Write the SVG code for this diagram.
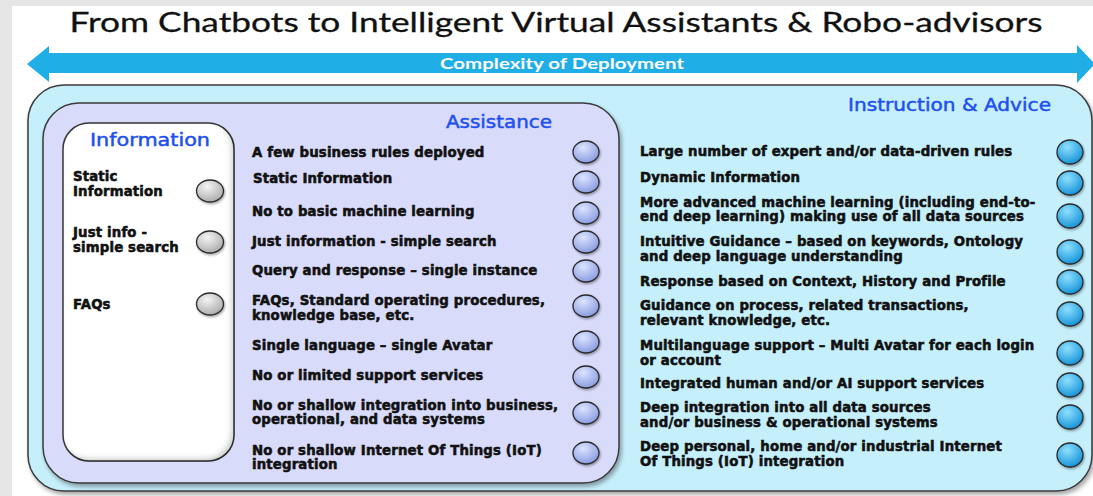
<svg xmlns="http://www.w3.org/2000/svg" width="1093" height="496" viewBox="0 0 1093 496">
<defs>
<style>
.title{font-family:Lato,"Liberation Sans",sans-serif;font-size:27px;fill:#111;stroke:#111;stroke-width:0.3}
.arrowtxt{font-family:Lato,"Liberation Sans",sans-serif;font-weight:bold;font-size:15px;fill:#fff}
.head{font-family:"DejaVu Sans",Verdana,sans-serif;font-size:18px;fill:#1E50EE;stroke:#1E50EE;stroke-width:0.5}
.t{font-family:"DejaVu Sans","Liberation Sans",sans-serif;font-weight:bold;font-size:13.3px;fill:#111;stroke:#111;stroke-width:0.55;letter-spacing:0.15px}
.panel{stroke:#3a3a3a;stroke-width:1.5}
.dot{stroke:#2a2a2a;stroke-width:1.3}
</style>
<radialGradient id="gGray" cx="0.4" cy="0.3" r="0.75"><stop offset="0" stop-color="#f4f4f4"/><stop offset="1" stop-color="#a9a9a9"/></radialGradient>
<radialGradient id="gLav" cx="0.4" cy="0.3" r="0.75"><stop offset="0" stop-color="#dce4ff"/><stop offset="1" stop-color="#8598e0"/></radialGradient>
<radialGradient id="gBlue" cx="0.4" cy="0.3" r="0.75"><stop offset="0" stop-color="#8fe0ff"/><stop offset="1" stop-color="#0f8fd6"/></radialGradient>
<filter id="drop" x="-5%" y="-5%" width="110%" height="115%"><feDropShadow dx="2" dy="3" stdDeviation="2" flood-color="#000" flood-opacity="0.35"/></filter>
<filter id="dotShadow" x="-30%" y="-30%" width="160%" height="160%"><feDropShadow dx="1" dy="1.5" stdDeviation="1" flood-color="#000" flood-opacity="0.35"/></filter>
<filter id="inset" x="-5%" y="-5%" width="110%" height="110%">
<feFlood flood-color="#000" flood-opacity="0.45" result="f"/>
<feComposite in="f" in2="SourceAlpha" operator="out" result="inv"/>
<feGaussianBlur in="inv" stdDeviation="3" result="b"/>
<feOffset in="b" dx="-3" dy="-3" result="o"/>
<feComposite in="o" in2="SourceAlpha" operator="in" result="sh"/>
<feMerge><feMergeNode in="SourceGraphic"/><feMergeNode in="sh"/></feMerge>
</filter>
</defs>
<rect x="0" y="0" width="1093" height="496" fill="#e6e6e6"/>
<rect x="12" y="6" width="1081" height="490" fill="#ffffff"/>
<text class="title" x="556" y="32" text-anchor="middle" textLength="973" lengthAdjust="spacingAndGlyphs">From Chatbots to Intelligent Virtual Assistants &amp; Robo-advisors</text>
<g id="connectors">
<polygon points="27,64 49,46 49,53 1077,53 1077,45 1095,64 1077,83 1077,73 49,73 49,82" fill="#1FAEE6"/>
<text class="arrowtxt" x="562" y="69" text-anchor="middle" textLength="244" lengthAdjust="spacingAndGlyphs">Complexity of Deployment</text>
</g>
<g id="instruction-advice">
<rect class="panel" x="28" y="85" width="1064" height="406" rx="36" fill="#C6EFFC" filter="url(#drop)"/>
<text class="head" x="1051" y="111" text-anchor="end" textLength="203" lengthAdjust="spacingAndGlyphs">Instruction &amp; Advice</text>
</g>
<g id="assistance">
<rect class="panel" x="43" y="103" width="576" height="380" rx="36" fill="#D9DBFA" filter="url(#drop)"/>
<text class="head" x="552" y="128" text-anchor="end" textLength="106" lengthAdjust="spacingAndGlyphs">Assistance</text>
</g>
<g id="information">
<rect class="panel" x="63" y="123" width="171" height="338" rx="26" fill="#ffffff" filter="url(#inset)"/>
<text class="head" x="150" y="146" text-anchor="middle" textLength="120" lengthAdjust="spacingAndGlyphs">Information</text>
</g>
<g id="information-items">
<text class="t" x="73" y="181">Static</text>
<text class="t" x="73" y="196">Information</text>
<text class="t" x="73" y="237">Just info -</text>
<text class="t" x="73" y="252">simple search</text>
<text class="t" x="73" y="309">FAQs</text>
<g filter="url(#dotShadow)">
<ellipse class="dot" cx="210" cy="191" rx="13.5" ry="11" fill="url(#gGray)"/>
<ellipse class="dot" cx="210" cy="242" rx="13.5" ry="11" fill="url(#gGray)"/>
<ellipse class="dot" cx="210" cy="304" rx="13.5" ry="11" fill="url(#gGray)"/>
</g>
</g>
<g id="assistance-items">
<text class="t" x="252" y="157">A few business rules deployed</text>
<text class="t" x="253" y="183">Static Information</text>
<text class="t" x="252" y="216">No to basic machine learning</text>
<text class="t" x="252" y="246">Just information - simple search</text>
<text class="t" x="252" y="275">Query and response – single instance</text>
<text class="t" x="252" y="305">FAQs, Standard operating procedures,</text>
<text class="t" x="252" y="320">knowledge base, etc.</text>
<text class="t" x="252" y="350">Single language – single Avatar</text>
<text class="t" x="252" y="380">No or limited support services</text>
<text class="t" x="252" y="410">No or shallow integration into business,</text>
<text class="t" x="252" y="424">operational, and data systems</text>
<text class="t" x="252" y="455">No or shallow Internet Of Things (IoT)</text>
<text class="t" x="252" y="469">integration</text>
<g filter="url(#dotShadow)">
<ellipse class="dot" cx="586" cy="152" rx="13" ry="11" fill="url(#gLav)"/>
<ellipse class="dot" cx="586" cy="182" rx="13" ry="11" fill="url(#gLav)"/>
<ellipse class="dot" cx="586" cy="213" rx="13" ry="11" fill="url(#gLav)"/>
<ellipse class="dot" cx="586" cy="242" rx="13" ry="11" fill="url(#gLav)"/>
<ellipse class="dot" cx="586" cy="271" rx="13" ry="11" fill="url(#gLav)"/>
<ellipse class="dot" cx="586" cy="306" rx="13" ry="11" fill="url(#gLav)"/>
<ellipse class="dot" cx="586" cy="342" rx="13" ry="11" fill="url(#gLav)"/>
<ellipse class="dot" cx="586" cy="377" rx="13" ry="11" fill="url(#gLav)"/>
<ellipse class="dot" cx="586" cy="413" rx="13" ry="11" fill="url(#gLav)"/>
<ellipse class="dot" cx="586" cy="453" rx="13" ry="11" fill="url(#gLav)"/>
</g>
</g>
<g id="instruction-items">
<text class="t" x="640" y="156">Large number of expert and/or data-driven rules</text>
<text class="t" x="640" y="182">Dynamic Information</text>
<text class="t" x="640" y="207">More advanced machine learning (including end-to-</text>
<text class="t" x="640" y="221">end deep learning) making use of all data sources</text>
<text class="t" x="640" y="246">Intuitive Guidance – based on keywords, Ontology</text>
<text class="t" x="640" y="261">and deep language understanding</text>
<text class="t" x="640" y="286">Response based on Context, History and Profile</text>
<text class="t" x="640" y="310">Guidance on process, related transactions,</text>
<text class="t" x="640" y="325">relevant knowledge, etc.</text>
<text class="t" x="640" y="350">Multilanguage support – Multi Avatar for each login</text>
<text class="t" x="640" y="365">or account</text>
<text class="t" x="640" y="388">Integrated human and/or AI support services</text>
<text class="t" x="640" y="412">Deep integration into all data sources</text>
<text class="t" x="640" y="427">and/or business &amp; operational systems</text>
<text class="t" x="640" y="451">Deep personal, home and/or industrial Internet</text>
<text class="t" x="640" y="466">Of Things (IoT) integration</text>
<g filter="url(#dotShadow)">
<ellipse class="dot" cx="1070" cy="152" rx="13" ry="12" fill="url(#gBlue)"/>
<ellipse class="dot" cx="1070" cy="183" rx="13" ry="12" fill="url(#gBlue)"/>
<ellipse class="dot" cx="1070" cy="216" rx="13" ry="12" fill="url(#gBlue)"/>
<ellipse class="dot" cx="1070" cy="252" rx="13" ry="12" fill="url(#gBlue)"/>
<ellipse class="dot" cx="1070" cy="282" rx="13" ry="12" fill="url(#gBlue)"/>
<ellipse class="dot" cx="1070" cy="314" rx="13" ry="12" fill="url(#gBlue)"/>
<ellipse class="dot" cx="1070" cy="353" rx="13" ry="12" fill="url(#gBlue)"/>
<ellipse class="dot" cx="1070" cy="385" rx="13" ry="12" fill="url(#gBlue)"/>
<ellipse class="dot" cx="1070" cy="417" rx="13" ry="12" fill="url(#gBlue)"/>
<ellipse class="dot" cx="1070" cy="455" rx="13" ry="12" fill="url(#gBlue)"/>
</g>
</g>
</svg>
